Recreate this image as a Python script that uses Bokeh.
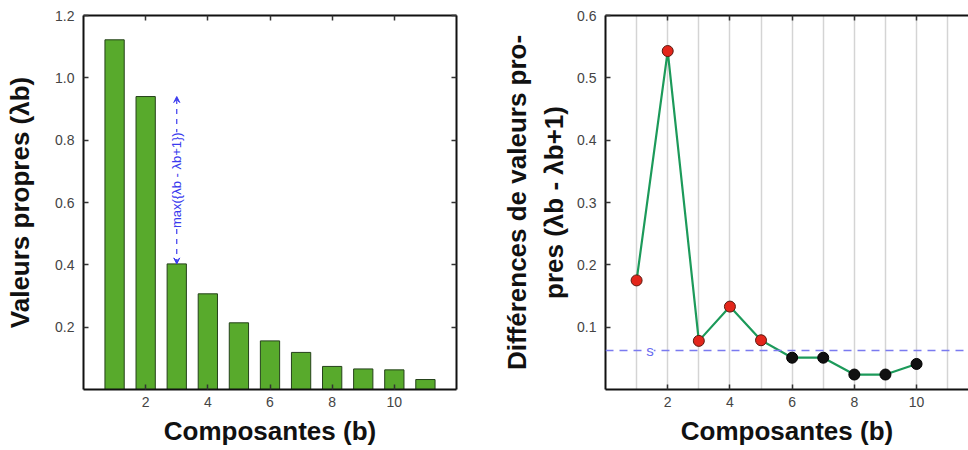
from math import pi
from bokeh.plotting import figure
from bokeh.layouts import row
from bokeh.models import (LinearAxis, FixedTicker, Range1d, Label, Arrow, VeeHead,
                          Span, ColumnDataSource, PrintfTickFormatter)
from bokeh.embed import file_html
from bokeh.resources import INLINE

# ---------------- data ----------------
components = [1, 2, 3, 4, 5, 6, 7, 8, 9, 10, 11]
eigenvalues = [1.122, 0.940, 0.403, 0.307, 0.214, 0.156, 0.119, 0.074, 0.066, 0.063, 0.032]
diff_components = [1, 2, 3, 4, 5, 6, 7, 8, 9, 10]
differences = [0.175, 0.543, 0.078, 0.133, 0.079, 0.051, 0.051, 0.024, 0.024, 0.041]
threshold = 0.0625
x_ticks = [2, 4, 6, 8, 10]
left_y_ticks = [0.2, 0.4, 0.6, 0.8, 1.0, 1.2]
right_y_ticks = [0.1, 0.2, 0.3, 0.4, 0.5, 0.6]
grid_positions = [1, 2, 3, 4, 5, 6, 7, 8, 9, 10, 11]
max_gap_component = 3
left_ylabel = "Valeurs propres (λb)"
right_ylabel_1 = "Différences de valeurs pro-"
right_ylabel_2 = "pres (λb - λb+1)"
xlabel = "Composantes (b)"
arrow_text = "max({λb - λb+1})"

FONT = "Liberation Sans"
TICK_COLOR = "#444444"
BLUE = "#3a3aee"


def style_main_axis(ax, ticks, fmt=None):
    ax.ticker = FixedTicker(ticks=ticks)
    if fmt:
        ax.formatter = PrintfTickFormatter(format=fmt)
    ax.major_tick_in = 5
    ax.major_tick_out = 0
    ax.minor_tick_line_color = None
    ax.axis_line_width = 2
    ax.axis_line_color = "#111111"
    ax.major_tick_line_color = "#333333"
    ax.major_tick_line_width = 1.5
    ax.major_label_text_font = FONT
    ax.major_label_text_font_size = "14px"
    ax.major_label_text_color = TICK_COLOR
    ax.axis_label_text_font = FONT
    ax.axis_label_text_font_style = "bold"
    ax.axis_label_text_font_size = "26px"
    ax.axis_label_text_color = "#111111"


def mirror_axis(ticks):
    ax = LinearAxis(ticker=FixedTicker(ticks=[], minor_ticks=ticks))
    ax.minor_tick_in = 5
    ax.minor_tick_out = 0
    ax.minor_tick_line_color = "#333333"
    ax.minor_tick_line_width = 1.5
    ax.major_tick_line_color = None
    ax.axis_line_width = 2
    ax.axis_line_color = "#111111"
    return ax


# ---------------- left: eigenvalues bars ----------------
p1 = figure(width=484, height=450, x_range=Range1d(0, 12), y_range=Range1d(0, 1.2),
            output_backend="svg", toolbar_location=None,
            min_border_left=83, min_border_right=28, min_border_top=15, min_border_bottom=61)
p1.outline_line_color = None
p1.grid.visible = False

src1 = ColumnDataSource(dict(x=components, top=eigenvalues))
p1.vbar(x="x", top="top", bottom=0, width=0.62, source=src1,
        fill_color="#58aa2c", line_color="#24401a", line_width=1)

style_main_axis(p1.xaxis[0], x_ticks)
style_main_axis(p1.yaxis[0], left_y_ticks, "%.1f")
p1.xaxis[0].axis_label = xlabel
p1.yaxis[0].axis_label = left_ylabel
p1.xaxis[0].major_label_standoff = 7
p1.xaxis[0].axis_label_standoff = 6
p1.yaxis[0].major_label_standoff = 9
p1.yaxis[0].axis_label_standoff = 17
p1.add_layout(mirror_axis(x_ticks), "above")
p1.add_layout(mirror_axis(left_y_ticks), "right")

i_low = components.index(max_gap_component)
y_low = eigenvalues[i_low]
y_high = eigenvalues[i_low - 1]
p1.add_layout(Arrow(x_start=max_gap_component, y_start=y_low,
                    x_end=max_gap_component, y_end=y_high,
                    line_color=BLUE, line_dash="5 5", line_width=1.2,
                    start=VeeHead(size=6, line_color=BLUE, fill_color=BLUE, line_width=1),
                    end=VeeHead(size=6, line_color=BLUE, fill_color=BLUE, line_width=1)))
p1.add_layout(Label(x=max_gap_component, y=(y_low + y_high) / 2, text=arrow_text,
                    angle=pi / 2, text_align="center", text_baseline="middle",
                    text_font=FONT, text_font_size="13px", text_color=BLUE,
                    background_fill_color="white"))

# ---------------- right: differences ----------------
p2 = figure(width=484, height=450, x_range=Range1d(0, 11.67), y_range=Range1d(0, 0.6),
            output_backend="svg", toolbar_location=None,
            min_border_left=121, min_border_right=0, min_border_top=15, min_border_bottom=61)
p2.outline_line_color = None
p2.ygrid.visible = False
p2.xgrid.ticker = FixedTicker(ticks=grid_positions)
p2.xgrid.grid_line_color = "#d4d4d4"
p2.xgrid.grid_line_width = 1.5

style_main_axis(p2.xaxis[0], x_ticks)
style_main_axis(p2.yaxis[0], right_y_ticks, "%.1f")
p2.xaxis[0].axis_label = xlabel
p2.yaxis[0].axis_label = right_ylabel_2
p2.xaxis[0].major_label_standoff = 7
p2.xaxis[0].axis_label_standoff = 6
p2.yaxis[0].major_label_standoff = 9
p2.yaxis[0].axis_label_standoff = 5

outer = LinearAxis(ticker=FixedTicker(ticks=[]), axis_line_color=None,
                   major_tick_line_color=None, minor_tick_line_color=None)
outer.axis_label = right_ylabel_1
outer.axis_label_text_font = FONT
outer.axis_label_text_font_style = "bold"
outer.axis_label_text_font_size = "26px"
outer.axis_label_text_color = "#111111"
outer.axis_label_standoff = 5
p2.add_layout(outer, "left")
p2.add_layout(mirror_axis(x_ticks), "above")

p2.add_layout(Span(location=threshold, dimension="width", line_color="#7a7af0",
                   line_dash="8 6", line_width=1.5))
p2.add_layout(Label(x=1.43, y=threshold, text="s", text_align="center", text_baseline="middle",
                    text_font=FONT, text_font_size="15px", text_color="#6a6af0",
                    background_fill_color="white"))

p2.line(diff_components, differences, line_color="#1c9a5a", line_width=2.2)
colors = ["#e3261b" if d > threshold else "#111111" for d in differences]
outlines = ["#5a1a10" if d > threshold else "#000000" for d in differences]
src2 = ColumnDataSource(dict(x=diff_components, y=differences, c=colors, o=outlines))
p2.scatter("x", "y", source=src2, size=11, fill_color="c", line_color="o", line_width=1)

layout = row(p1, p2)
open("out.html", "w").write(file_html(layout, INLINE))
